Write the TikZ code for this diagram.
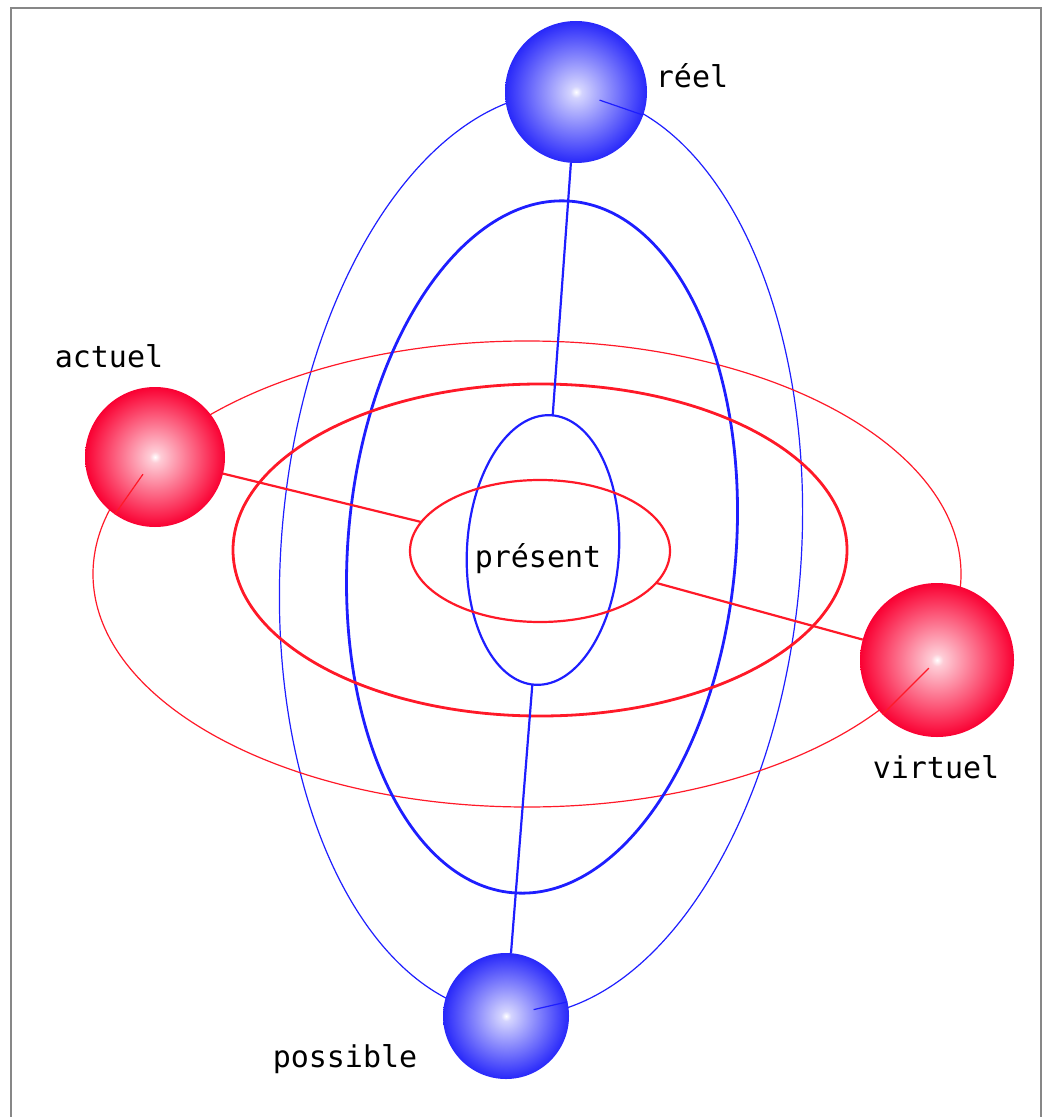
\documentclass[tikz,border=0pt]{standalone}
\usepackage{fontspec}
\setmonofont{DejaVu Sans Mono}
\usepackage{tikz}
\usetikzlibrary{calc,shapes.geometric}
\definecolor{orbitred}{RGB}{255,25,40}
\definecolor{orbitblue}{RGB}{30,30,255}
\definecolor{ballred}{RGB}{250,0,50}
\definecolor{ballblue}{RGB}{40,40,250}
\definecolor{framegray}{RGB}{135,135,135}
\pgfdeclareradialshading{redball}{\pgfpoint{0bp}{0bp}}{color(0bp)=(white); color(2bp)=(white!80!ballred); color(12bp)=(ballred!55!white); color(25bp)=(ballred); color(50bp)=(ballred)}
\pgfdeclareradialshading{blueball}{\pgfpoint{0bp}{0bp}}{color(0bp)=(white); color(2bp)=(white!80!ballblue); color(12bp)=(ballblue!55!white); color(25bp)=(ballblue); color(50bp)=(ballblue)}
\tikzset{
  sphere/.style={circle,inner sep=0pt,outer sep=0pt},
  redsphere/.style={sphere,shading=redball},
  bluesphere/.style={sphere,shading=blueball},
  orbit/.style={ellipse,draw,inner sep=0pt,outer sep=0pt},
  thinred/.style={orbitred,line width=0.6pt},
  thickred/.style={orbitred,line width=1.4pt},
  thinblue/.style={orbitblue,line width=0.6pt},
  thickblue/.style={orbitblue,line width=1.4pt},
  tie/.style={line width=1.1pt},
  tag/.style={font=\ttfamily\fontsize{15}{18}\selectfont,anchor=base,inner sep=0pt}
}
\begin{document}
\begin{tikzpicture}[x=0.5pt,y=-0.5pt]
  \useasboundingbox (0,0) rectangle (1043,1117);
  \draw[framegray,line width=1pt] (11,1117) -- (11,8) -- (1041,8) -- (1041,1117);
  % orbits
  \node[orbit,thinblue,minimum width=260pt,minimum height=463pt,rotate=-4.3] (bout) at (541,554) {};
  \node[orbit,thinred,minimum width=434pt,minimum height=233pt] (rout) at (527,574) {};
  \node[orbit,thickblue,minimum width=194pt,minimum height=347pt,rotate=-4.8] (bmid) at (542,547) {};
  \node[orbit,thickred,minimum width=307pt,minimum height=166pt] (rmid) at (540,550) {};
  \node[orbit,thickblue,line width=1.1pt,minimum width=76pt,minimum height=135pt,rotate=-3.4] (bin) at (543,550) {};
  \node[orbit,thickred,line width=1.1pt,minimum width=130pt,minimum height=71pt] (rin) at (540,551) {};
  % spheres
  \node[bluesphere,minimum size=71pt] (reel) at (576,92) {};
  \node[redsphere,minimum size=70pt] (actuel) at (155,457) {};
  \node[redsphere,minimum size=77pt] (virtuel) at (937,660) {};
  \node[bluesphere,minimum size=63pt] (possible) at (506,1016) {};
  % ties
  \draw[tie,orbitblue] (reel) -- (bin);
  \draw[tie,orbitblue] (bin) -- (possible);
  \draw[tie,orbitred] (actuel) -- (rin);
  \draw[tie,orbitred] (rin) -- (virtuel);
  \draw[thinblue] ($(reel.center)!0.35!(reel.341)$) -- (reel.341);
  \draw[thinblue] ($(possible.center)!0.45!(possible.13)$) -- (possible.13);
  \draw[thinred] ($(actuel.center)!0.3!(actuel.235)$) -- (actuel.235);
  \draw[thinred] ($(virtuel.center)!0.15!(virtuel.225)$) -- (virtuel.225);
  % labels
  \node[tag] (lreel) at (692,88) {réel};
  \node[tag] (lactuel) at (109,367) {actuel};
  \node[tag] (lvirtuel) at (936,778) {virtuel};
  \node[tag] (lpossible) at (345,1067) {possible};
  \node[tag] (lpresent) at (538,567) {présent};
\end{tikzpicture}
\end{document}
